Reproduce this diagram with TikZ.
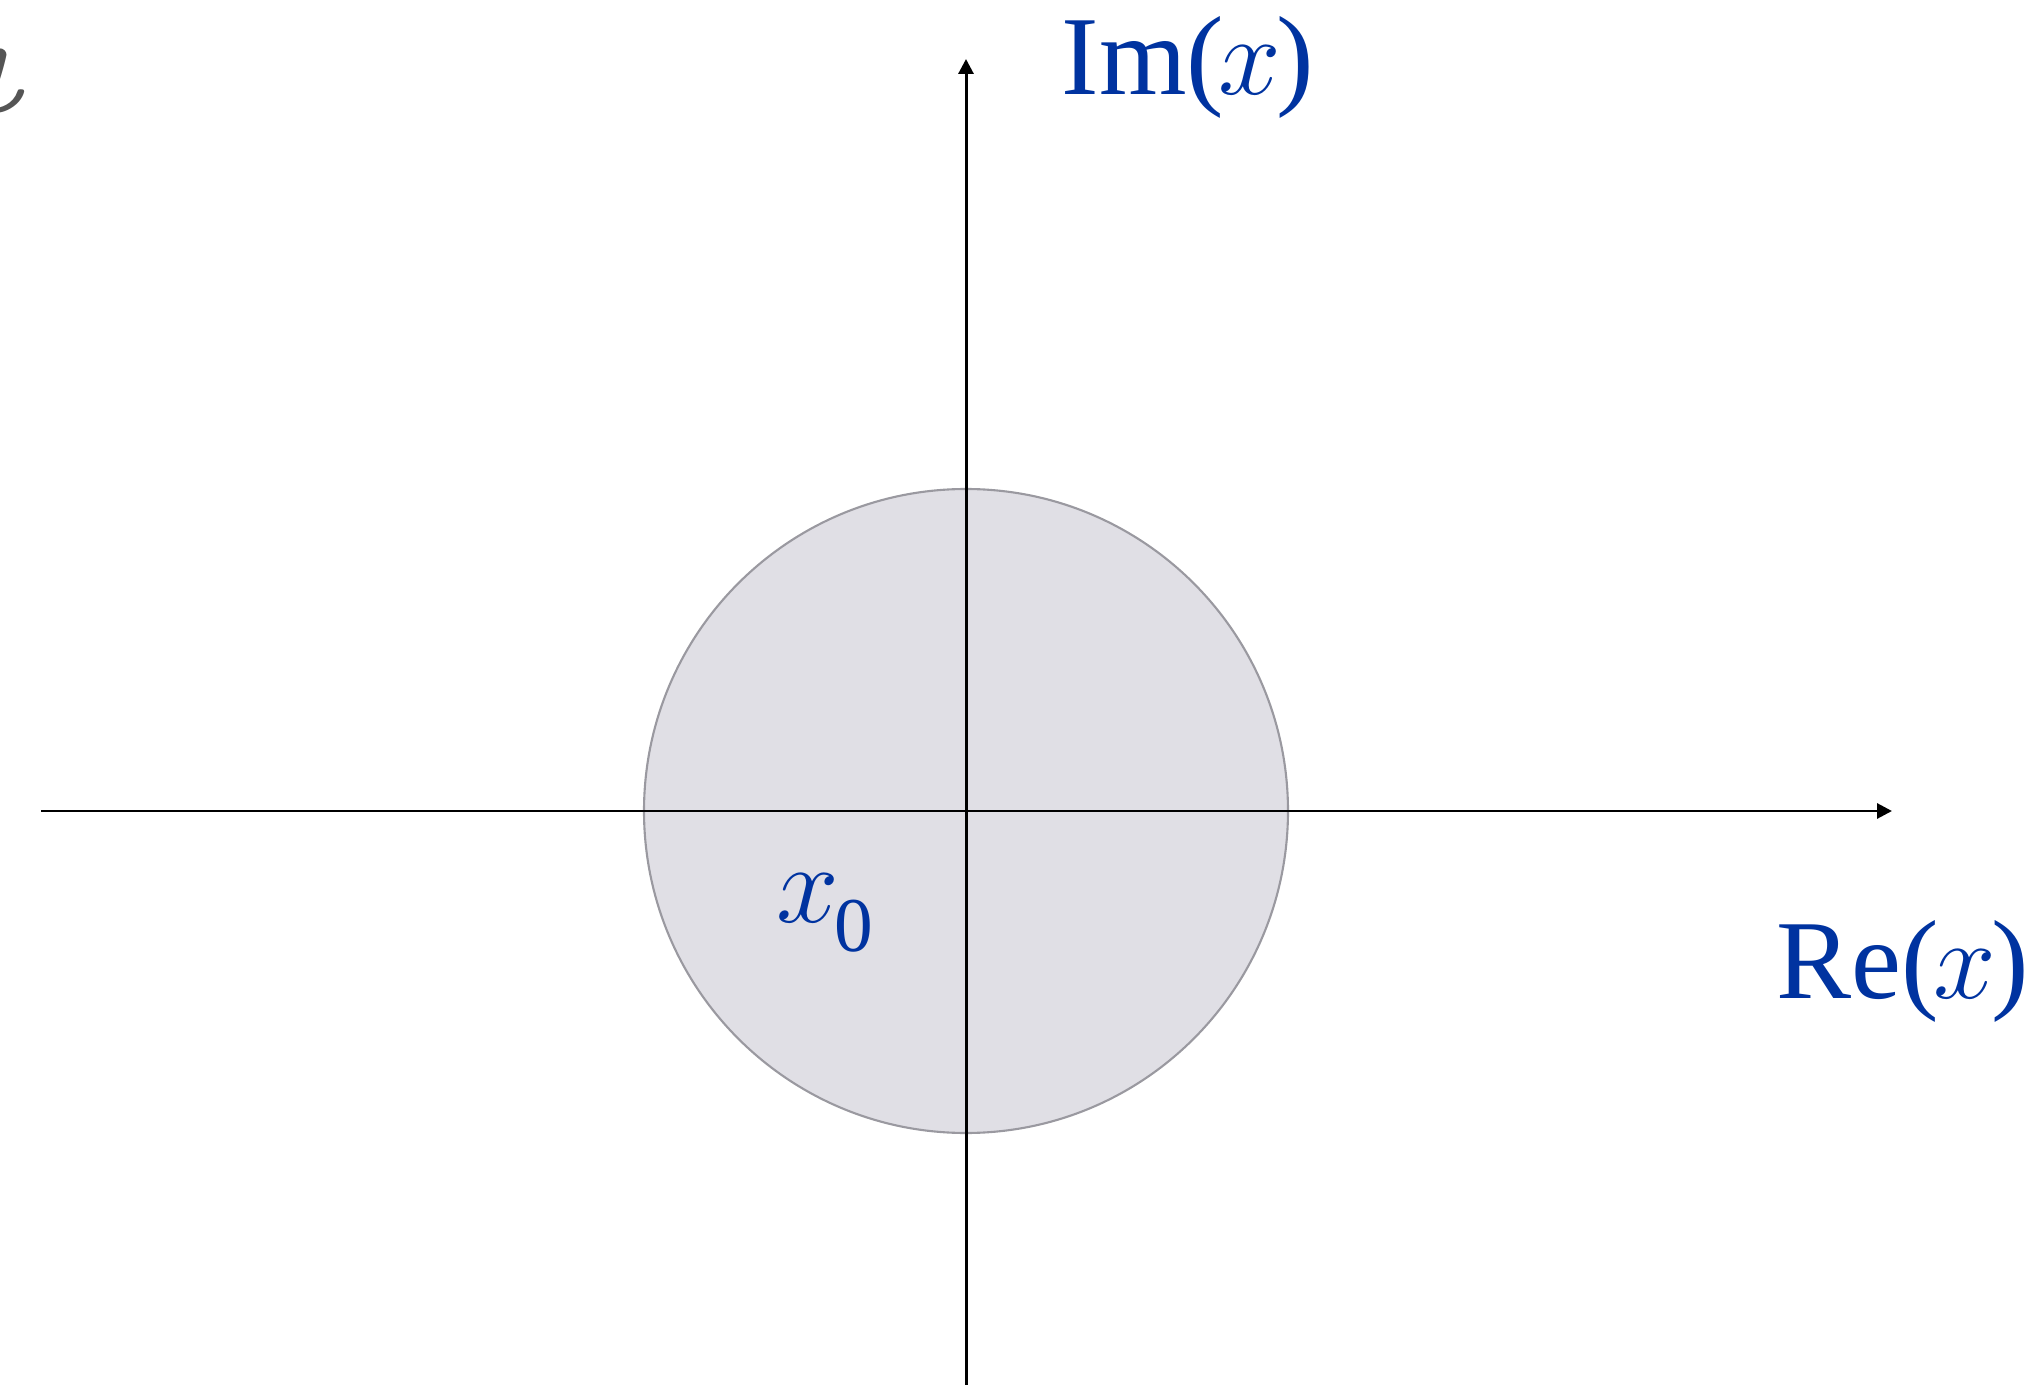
\RequirePackage{fix-cm}
\documentclass[tikz,border=0pt]{standalone}
\usepackage{fontspec}
\usepackage{bm}
\setmainfont{Liberation Serif}
\usetikzlibrary{arrows.meta}
\definecolor{lblue}{HTML}{0033A0}
\definecolor{diskfill}{HTML}{E0DFE5}
\definecolor{diskline}{HTML}{9A99A0}
\definecolor{gtext}{HTML}{555555}
\tikzset{
  axis/.style={line width=0.85pt, -{Triangle[length=4.2pt,width=4.2pt]}},
  lbl/.style={text=lblue, inner sep=0pt, font=\fontsize{32}{32}\selectfont},
}
\begin{document}
\begin{tikzpicture}[x=0.01cm,y=-0.01cm]
\useasboundingbox (0,0) rectangle (2044,1385);
\fill[diskfill] (966,811) circle (322);
\draw[diskline, line width=0.6pt] (966,811) circle (322);
\coordinate (xl) at (41,811);
\coordinate (xr) at (1892,811);
\coordinate (yb) at (966,1385);
\coordinate (yt) at (966,59);
\draw[axis] (xl) -- (xr);
\draw[axis] (yb) -- (yt);
\node[lbl, anchor=base west] (im) at (1061,95) {Im(\kern-1.5pt$x$\kern-1.5pt)};
\node[lbl, anchor=base west] (re) at (1776,998) {Re(\kern-1.5pt$x$\kern-1.5pt)};
\node[lbl, anchor=base west] (x0) at (776,922) {$x$\kern-1.5pt\raisebox{-8.5pt}{\fontsize{22}{22}\selectfont 0}};
\node[inner sep=0pt, anchor=base east, text=gtext, font=\fontsize{40}{40}\selectfont] (iota) at (30,113) {$\bm{\iota}$};
\end{tikzpicture}
\end{document}
